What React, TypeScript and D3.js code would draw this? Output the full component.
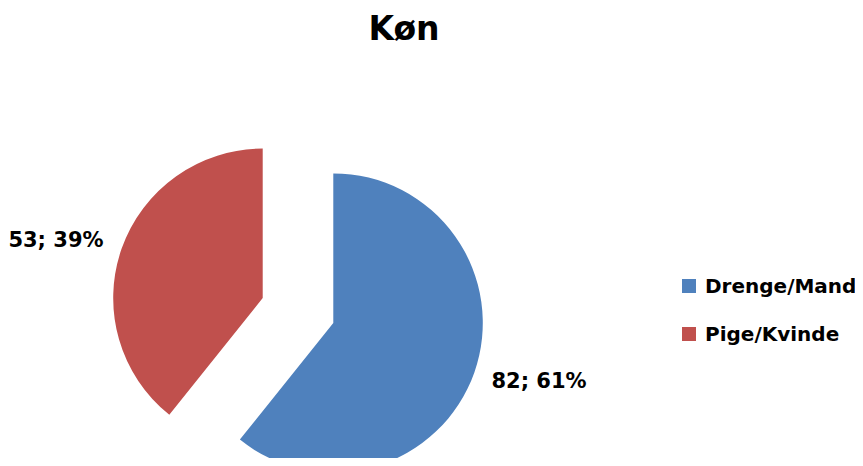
import { useRef, useEffect } from 'react';
import * as d3 from 'd3';

const categories = ['Drenge/Mand', 'Pige/Kvinde'];
const counts = [82, 53];
const percents = ['61%', '39%'];
const colors = ['#4F81BD', '#C0504D'];

const FONT = '"DejaVu Sans", sans-serif';

export default function App() {
  const svgRef = useRef<SVGSVGElement>(null);

  useEffect(() => {
    if (!svgRef.current) return;
    const width = 863;
    const height = 466;
    const cx = 298;
    const cy = 310.5;
    const radius = 149.5;
    const explode = 37.4;
    const labelRadius = 175;

    d3.select(svgRef.current).selectAll('*').remove();
    const svg = d3
      .select(svgRef.current)
      .attr('width', width)
      .attr('height', height)
      .style('display', 'block');

    // Title
    svg
      .append('text')
      .attr('x', 404)
      .attr('y', 40)
      .attr('text-anchor', 'middle')
      .attr('font-family', FONT)
      .attr('font-size', '33px')
      .attr('font-weight', 'bold')
      .attr('fill', '#000')
      .text('Køn');

    const pie = d3
      .pie<number>()
      .sort(null)
      .value((d) => d);
    const arcs = pie(counts);
    const arc = d3.arc<d3.PieArcDatum<number>>().innerRadius(0).outerRadius(radius);

    const g = svg.append('g').attr('transform', `translate(${cx}, ${cy})`);

    arcs.forEach((a, i) => {
      const mid = (a.startAngle + a.endAngle) / 2;
      const ox = Math.sin(mid) * explode;
      const oy = -Math.cos(mid) * explode;
      const slice = g.append('g').attr('transform', `translate(${ox}, ${oy})`);

      slice.append('path').attr('d', arc(a)).attr('fill', colors[i]);

      // Data label outside end
      const lx = Math.sin(mid) * labelRadius;
      const ly = -Math.cos(mid) * labelRadius;
      const right = lx > 0;
      slice
        .append('text')
        .attr('x', lx + (right ? -7 : 6))
        .attr('y', ly + 7)
        .attr('text-anchor', right ? 'start' : 'end')
        .attr('font-family', FONT)
        .attr('font-size', '21px')
        .attr('font-weight', 'bold')
        .attr('fill', '#000')
        .text(`${counts[i]}; ${percents[i]}`);
    });

    // Legend
    const legend = svg.append('g').attr('transform', 'translate(682, 279)');
    categories.forEach((c, i) => {
      const row = legend.append('g').attr('transform', `translate(0, ${i * 48})`);
      row.append('rect').attr('width', 14).attr('height', 14).attr('fill', colors[i]);
      row
        .append('text')
        .attr('x', 23)
        .attr('y', 14)
        .attr('font-family', FONT)
        .attr('font-size', '20px')
        .attr('font-weight', 'bold')
        .attr('fill', '#000')
        .text(c);
    });
  }, []);

  return (
    <div style={{ margin: -8 }}>
      <svg ref={svgRef} />
    </div>
  );
}
